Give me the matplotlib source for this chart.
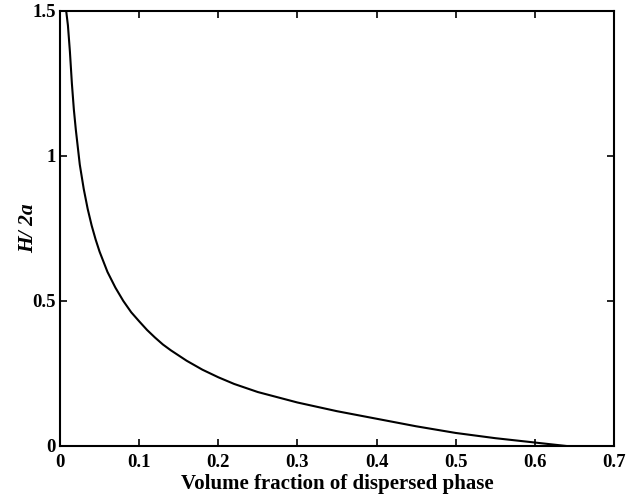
import matplotlib
matplotlib.use('Agg')
import matplotlib.pyplot as plt

# Valores
phi = [0.0078, 0.01, 0.0125, 0.015, 0.0175, 0.02, 0.025, 0.03, 0.035, 0.04, 0.045, 0.05,
       0.06, 0.07, 0.08, 0.09, 0.1, 0.11, 0.12, 0.13, 0.14, 0.16, 0.18, 0.2, 0.22, 0.25,
       0.3, 0.35, 0.4, 0.45, 0.5, 0.55, 0.6, 0.64]
h2a = [1.5, 1.45, 1.36, 1.25, 1.16, 1.09, 0.97, 0.886, 0.817, 0.76, 0.712, 0.67,
       0.60, 0.546, 0.50, 0.461, 0.43, 0.40, 0.374, 0.35, 0.33, 0.294, 0.263, 0.237, 0.214, 0.186,
       0.15, 0.12, 0.094, 0.068, 0.045, 0.027, 0.012, 0.0]

xticks = [0, 0.1, 0.2, 0.3, 0.4, 0.5, 0.6, 0.7]
yticks = [0, 0.5, 1, 1.5]

plt.rcParams['font.family'] = ['Liberation Serif', 'DejaVu Serif']
plt.rcParams['font.weight'] = 'bold'

fig = plt.figure(figsize=(6.33, 4.95), dpi=100)
ax = fig.add_axes([0.0948, 0.099, 0.875, 0.879])
ax.plot(phi, h2a, color='black', linewidth=1.5)

ax.set_xlim(0, 0.7)
ax.set_ylim(0, 1.5)
ax.set_xticks(xticks)
ax.set_xticklabels(['0', '0.1', '0.2', '0.3', '0.4', '0.5', '0.6', '0.7'])
ax.set_yticks(yticks)
ax.set_yticklabels(['0', '0.5', '1', '1.5'])
ax.tick_params(direction='in', length=5, width=1.2, labelsize=13.5,
               top=True, right=True)
ax.tick_params(axis='x', pad=6)
ax.tick_params(axis='y', pad=3)
for lbl in ax.get_xticklabels() + ax.get_yticklabels():
    lbl.set_fontweight('bold')
for s in ax.spines.values():
    s.set_linewidth(1.5)

ax.set_xlabel('Volume fraction of dispersed phase', fontsize=15, fontweight='bold', labelpad=2)
ax.set_ylabel('H/ 2a', fontsize=15.5, style='italic', fontweight='bold', labelpad=-4)

plt.savefig('out.png', dpi=100)
